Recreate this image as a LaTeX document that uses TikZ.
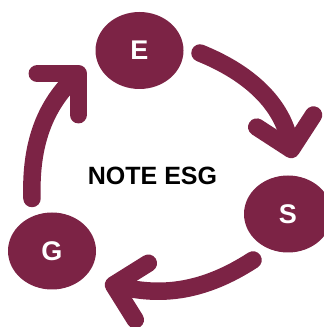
\documentclass[tikz,border=0pt]{standalone}
\usepackage{fontspec}
\setmainfont{Liberation Sans}
\usetikzlibrary{shapes.geometric,arrows.meta}
\definecolor{esgred}{RGB}{124,35,69}
\begin{document}
\begin{tikzpicture}[x=1pt,y=1pt,
	pillar/.style={ellipse,fill=esgred,text=white,inner sep=0pt,
		minimum width=88pt,minimum height=77pt,
		font=\fontsize{27}{30}\selectfont\bfseries},
	cyclearrow/.style={draw=esgred,line width=17.5pt,line cap=round,
		-{Straight Barb[round,length=29pt,width=58pt]}}]
\useasboundingbox (0,0) rectangle (324,327);
\node[pillar] (E) at (139.5,276.5) {E};
\node[pillar] (S) at (288,113) {S};
\node[pillar] (G) at (52,76) {G};
\node[font=\fontsize{25}{30}\selectfont\bfseries] (title) at (152.5,151.5) {NOTE ESG};
% the three arrows of the cycle
\draw[cyclearrow] ([shift={(60.5,-2.5)}]E.center) to[out=-22,in=102] ([shift={(5,56)}]S.center);
\draw[cyclearrow] ([shift={(-35,-46)}]S.center) to[out=-147,in=-13] ([shift={(53,-32)}]G.center);
\draw[cyclearrow] ([shift={(-20,52.5)}]G.center) to[out=92,in=-135] ([shift={(-55,-17)}]E.center);
\end{tikzpicture}
\end{document}
